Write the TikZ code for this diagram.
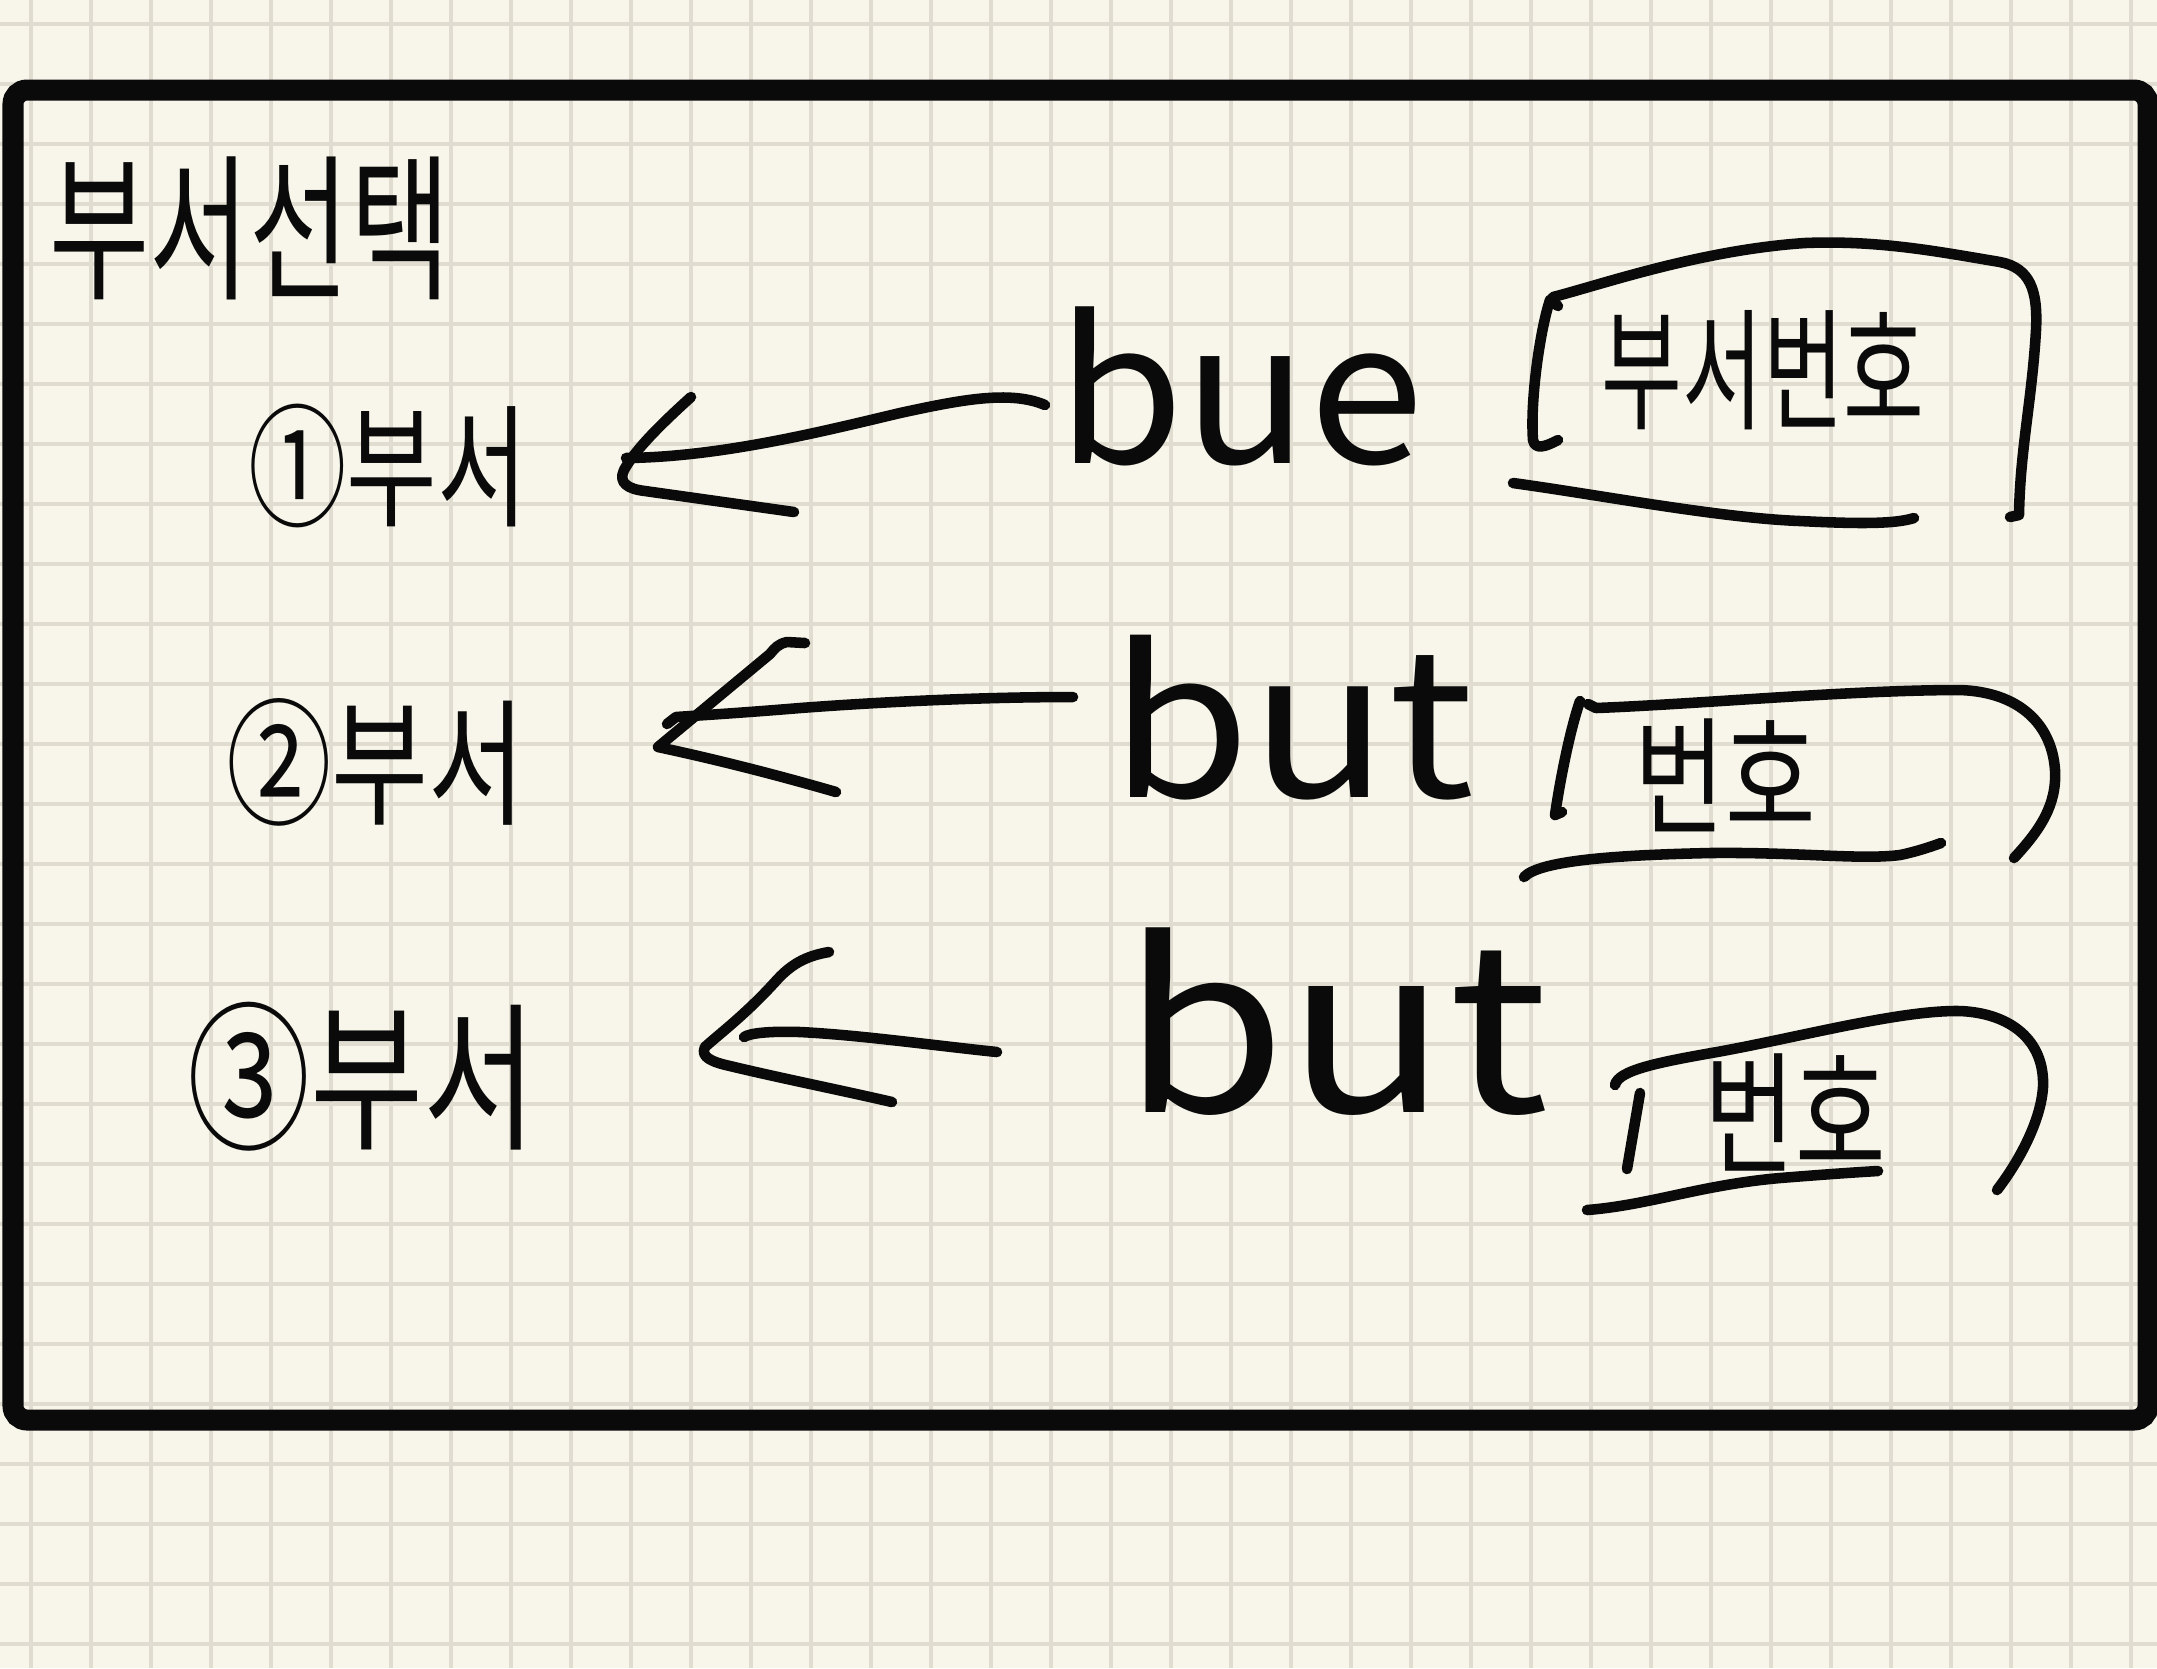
\documentclass[tikz,border=0pt]{standalone}
\usepackage{fontspec}
\newfontfamily\kr{Noto Sans CJK KR}
\newcommand\hsz[1]{\fontsize{#1}{#1}\selectfont}
\definecolor{paper}{HTML}{F8F6EA}
\definecolor{gridc}{HTML}{E0DDD0}
\definecolor{ink}{HTML}{0A0A0A}
\tikzset{
  pen/.style={draw=ink, line width=3pt, line cap=round, line join=round},
  lbl/.style={font=\kr, text=ink, inner sep=0pt},
  gridline/.style={draw=gridc, line width=0.9pt},
  frame/.style={draw=ink, line width=0.21cm, rounded corners=4pt}
}
\begin{document}
\begin{tikzpicture}[x=0.01cm,y=-0.01cm]
\fill[paper] (0,0) rectangle (2157,1668);
\useasboundingbox (0,0) rectangle (2157,1668);
\foreach \i in {0,...,35} \draw[gridline] (31+60*\i,0) -- (31+60*\i,1668);
\foreach \j in {0,...,27} \draw[gridline] (0,24+60*\j) -- (2157,24+60*\j);
\draw[frame] (13,90) rectangle (2148,1420);

% texts
\node[lbl, yscale=1.45] (title) at (250,228) {\hsz{31}부서선택};
\node[lbl, yscale=1.35] (d1) at (388,466) {\hsz{28}①부서};
\node[lbl, yscale=1.3] (d2) at (376,762) {\hsz{30}②부서};
\node[lbl, yscale=1.3] (d3) at (362,1077) {\hsz{35}③부서};

\node[lbl, anchor=base, xscale=1.05] (b1) at (1240,463) {\hsz{56}bue};
\node[lbl, anchor=base, xscale=1.12] (b2) at (1292,797) {\hsz{58}but};
\node[lbl, anchor=base, xscale=1.15] (b3) at (1335,1112) {\hsz{66}but};

\node[lbl, yscale=1.5] (n1) at (1763,370) {\hsz{25}부서번호};
\node[lbl, yscale=1.3] (n2) at (1725,775) {\hsz{28}번호};
\node[lbl, yscale=1.35] (n3) at (1795,1112) {\hsz{28}번호};

% arrow 1
\coordinate (a1s) at (1045,405);
\coordinate (a1t) at (626,458);
\draw[pen] (a1s) .. controls (1010,390) and (960,400) .. (900,413)
  .. controls (820,432) and (720,457) .. (a1t);
\draw[pen] (691,397) .. controls (660,425) and (635,450) .. (624,470)
  .. controls (618,483) and (628,489) .. (645,491) -- (794,512);

% arrow 2
\coordinate (a2s) at (1073,697);
\coordinate (a2t) at (667,724);
\draw[pen] (a2s) .. controls (980,697) and (880,702) .. (800,708)
  .. controls (740,713) and (690,716) .. (676,717) -- (a2t);
\draw[pen] (805,643) -- (787,642) .. controls (778,644) and (775,648) .. (770,654)
  -- (658,747) .. controls (700,756) and (760,770) .. (836,792);

% arrow 3
\coordinate (a3s) at (997,1052);
\coordinate (a3t) at (744,1037);
\draw[pen] (a3s) .. controls (930,1045) and (860,1035) .. (800,1032)
  .. controls (770,1031) and (750,1033) .. (a3t);
\draw[pen] (829,952) .. controls (805,956) and (790,965) .. (775,982)
  .. controls (745,1015) and (718,1035) .. (705,1047)
  .. controls (700,1057) and (712,1062) .. (730,1066)
  .. controls (780,1078) and (840,1090) .. (892,1102);

% box 1
\draw[pen] (1553,297) .. controls (1600,285) and (1700,250) .. (1805,243)
  .. controls (1880,240) and (1940,252) .. (2000,262)
  .. controls (2030,268) and (2038,290) .. (2036,330)
  .. controls (2032,400) and (2020,450) .. (2019,515) -- (2010,517);
\draw[pen] (1558,306) -- (1550,300) .. controls (1540,330) and (1530,400) .. (1533,440)
  .. controls (1535,450) and (1545,447) .. (1558,440);
\draw[pen] (1513,483) .. controls (1600,495) and (1720,518) .. (1800,521)
  .. controls (1860,524) and (1895,524) .. (1914,518);

% box 2
\draw[pen] (1580,701) .. controls (1570,730) and (1560,780) .. (1555,815) -- (1562,812);
\draw[pen] (1588,704) -- (1596,708) .. controls (1700,704) and (1850,690) .. (1960,690)
  .. controls (2020,692) and (2052,725) .. (2055,770)
  .. controls (2057,805) and (2040,830) .. (2014,858);
\draw[pen] (1524,877) .. controls (1540,860) and (1620,855) .. (1710,853)
  .. controls (1800,852) and (1860,860) .. (1900,855)
  .. controls (1915,852) and (1930,847) .. (1941,843);

% box 3
\draw[pen] (1640,1093) -- (1627,1169);
\draw[pen] (1615,1085) .. controls (1618,1070) and (1660,1062) .. (1717,1052)
  .. controls (1800,1037) and (1900,1010) .. (1960,1011)
  .. controls (2010,1013) and (2045,1040) .. (2043,1087)
  .. controls (2041,1120) and (2020,1160) .. (1997,1190);
\draw[pen] (1587,1210) .. controls (1650,1205) and (1700,1185) .. (1780,1178)
  .. controls (1830,1174) and (1860,1172) .. (1878,1171);
\end{tikzpicture}
\end{document}
